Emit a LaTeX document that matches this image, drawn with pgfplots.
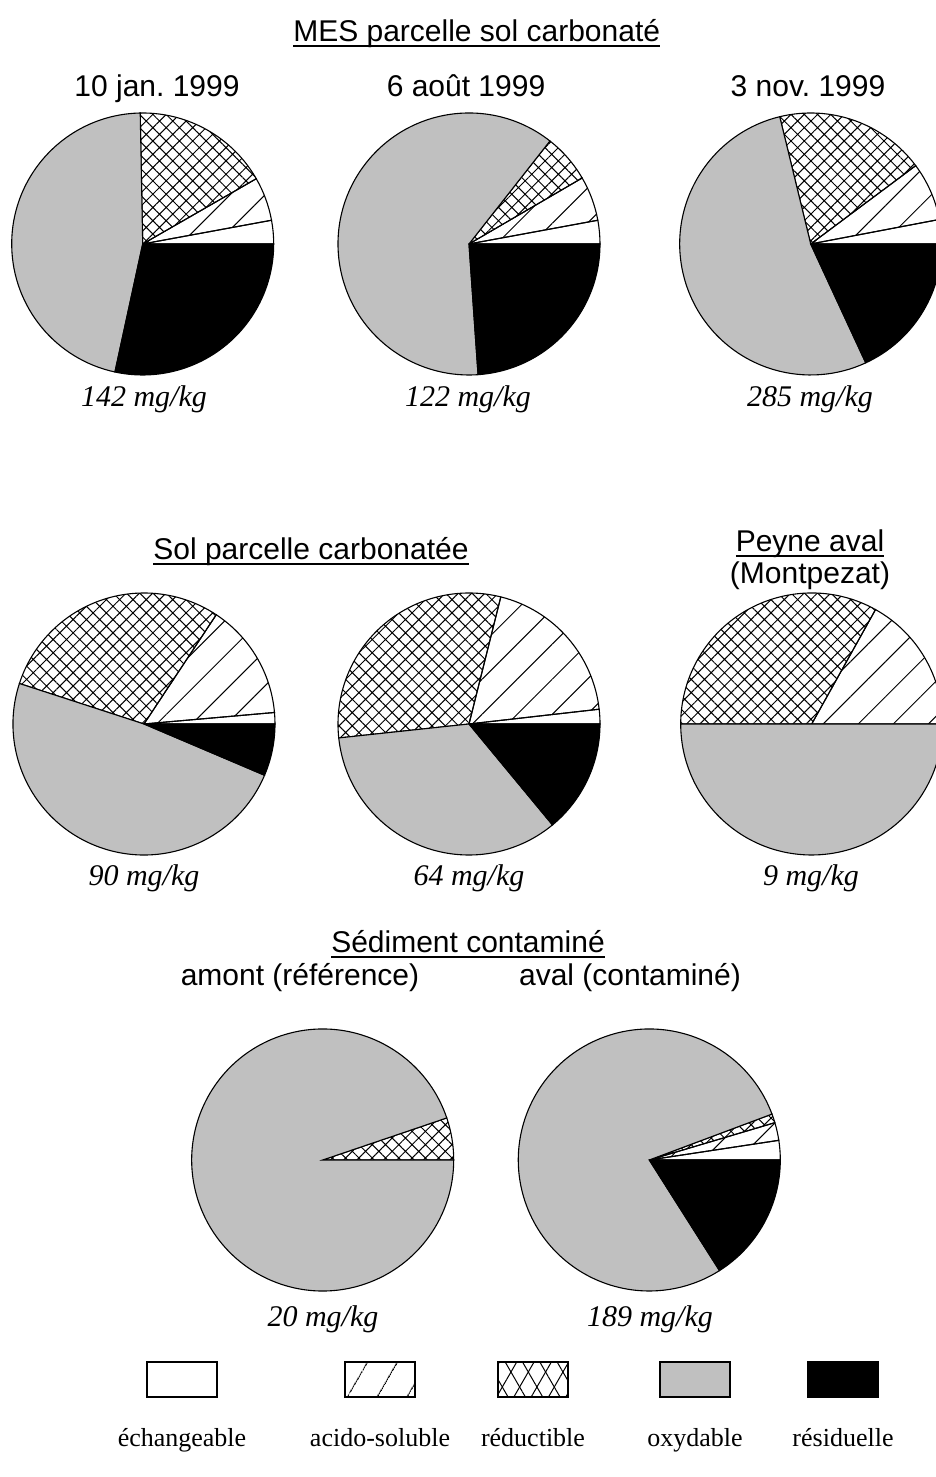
\documentclass[border=0pt]{standalone}
\usepackage{pgfplots}
\pgfplotsset{compat=1.18}
\usetikzlibrary{patterns.meta}
\usepackage{fontspec}
\setmainfont{Liberation Serif}
\newfontfamily\arial{Liberation Sans}
\frenchspacing

\definecolor{oxgrey}{RGB}{192,192,192}
\newcommand{\R}{65.5pt}
% underline like the original (thicker than \underline)
\newcommand{\ul}[1]{\setbox0\hbox{#1}\rlap{\raisebox{-2.6pt}{\rule{\wd0}{0.9pt}}}\box0}

\tikzset{
  sEch/.style={fill=white},
  sAci/.style={pattern={Lines[angle=45,distance=12.4pt,line width=0.5pt]}},
  sRed/.style={pattern={Hatch[angle=45,distance=4.7pt,line width=0.5pt]}},
  sOxy/.style={fill=oxgrey},
  sRes/.style={fill=black},
  ttl/.style={font=\arial\fontsize{15}{18}\selectfont, anchor=base},
  lab/.style={font=\fontsize{15}{18}\selectfont\itshape, anchor=base},
  leg/.style={font=\fontsize{13}{16}\selectfont, anchor=base},
}
\pgfdeclareplotmark{blank}{}
% each row: pie centre (x,y) and the slice's start/end as cumulative percent
\pgfplotsset{
  wedge/.style={only marks, scatter, mark=blank,
    visualization depends on={\thisrow{a}\as\sa},
    visualization depends on={\thisrow{b}\as\sb},
    scatter/@pre marker code/.code={%
      \pgfmathsetmacro\aa{3.6*\sa}\pgfmathsetmacro\bb{3.6*\sb}%
      \path[draw=black,line width=0.55pt,#1] (0,0) -- (\aa:\R)
        arc[start angle=\aa,end angle=\bb,radius=\R] -- cycle;},
    scatter/@post marker code/.code={}},
}

\begin{document}
\begin{tikzpicture}
\begin{axis}[x=0.5pt, y=0.5pt, xmin=0, xmax=936, ymin=0, ymax=1477,
  hide axis, clip=false]

% echangeable
\addplot[wedge=sEch] table {
x y a b
142.7 1233 0 2.9
469 1233 0 2.9
810.7 1233 0 3.0
144 753 0 1.4
469 753 0 1.8
649.3 317 0 2.4
};
% acido-soluble
\addplot[wedge=sAci] table {
x y a b
142.7 1233 2.9 8.3
469 1233 2.9 8.4
810.7 1233 3.0 10.2
144 753 1.4 15.7
469 753 1.8 21.1
811.7 753 0 16.9
649.3 317 2.4 4.6
};
% reductible
\addplot[wedge=sRed] table {
x y a b
142.7 1233 8.3 25.3
469 1233 8.4 14.4
810.7 1233 10.2 28.8
144 753 15.7 45.0
469 753 21.1 51.7
811.7 753 16.9 50
322.7 317 0 5.2
649.3 317 4.6 5.7
};
% oxydable
\addplot[wedge=sOxy] table {
x y a b
142.7 1233 25.3 71.6
469 1233 14.4 76.1
810.7 1233 28.8 81.9
144 753 45.0 93.6
469 753 51.7 86.0
811.7 753 50 100
322.7 317 5.2 100
649.3 317 5.7 84.0
};
% residuelle
\addplot[wedge=sRes] table {
x y a b
142.7 1233 71.6 100
469 1233 76.1 100
810.7 1233 81.9 100
144 753 93.6 100
469 753 86.0 100
649.3 317 84.0 100
};

% titles
\node[ttl] at (axis cs:476.7,1435) {\ul{MES parcelle sol carbonaté}};
\node[ttl] at (axis cs:157,1380) {10 jan. 1999};
\node[ttl] at (axis cs:466,1380) {6 août 1999};
\node[ttl] at (axis cs:808,1380) {3 nov. 1999};
\node[ttl] at (axis cs:311,917) {\ul{Sol parcelle carbonatée}};
\node[ttl] at (axis cs:810,925) {\ul{Peyne aval}};
\node[ttl] at (axis cs:810,893) {(Montpezat)};
\node[ttl] at (axis cs:468,524) {\ul{Sédiment contaminé}};
\node[ttl] at (axis cs:300,491) {amont (référence)};
\node[ttl] at (axis cs:630,491) {aval (contaminé)};

% concentrations
\node[lab] at (axis cs:144,1070) {142 mg/kg};
\node[lab] at (axis cs:468,1070) {122 mg/kg};
\node[lab] at (axis cs:810,1070) {285 mg/kg};
\node[lab] at (axis cs:144,591) {90 mg/kg};
\node[lab] at (axis cs:469,591) {64 mg/kg};
\node[lab] at (axis cs:811,591) {9 mg/kg};
\node[lab] at (axis cs:323,150) {20 mg/kg};
\node[lab] at (axis cs:650,150) {189 mg/kg};

% legend
\draw[line width=0.6pt, fill=white] (axis cs:147,80) rectangle (axis cs:217,115);
\draw[line width=0.6pt, pattern={Lines[angle=60,distance=13pt,line width=0.5pt]}] (axis cs:345,80) rectangle (axis cs:415,115);
\path[pattern={Lines[angle=60,distance=7.5pt,line width=0.5pt]}] (axis cs:498,80) rectangle (axis cs:568,115);
\draw[line width=0.6pt, pattern={Lines[angle=-60,distance=7.5pt,line width=0.5pt]}] (axis cs:498,80) rectangle (axis cs:568,115);
\draw[line width=0.6pt, fill=oxgrey] (axis cs:660,80) rectangle (axis cs:730,115);
\draw[line width=0.6pt, fill=black] (axis cs:808,80) rectangle (axis cs:878,115);
\node[leg] at (axis cs:182,30) {échangeable};
\node[leg] at (axis cs:380,30) {acido-soluble};
\node[leg] at (axis cs:533,30) {réductible};
\node[leg] at (axis cs:695,30) {oxydable};
\node[leg] at (axis cs:843,30) {résiduelle};
\end{axis}
\pgfresetboundingbox
\useasboundingbox (current axis.south west) rectangle (current axis.north east);
\end{tikzpicture}
\end{document}
